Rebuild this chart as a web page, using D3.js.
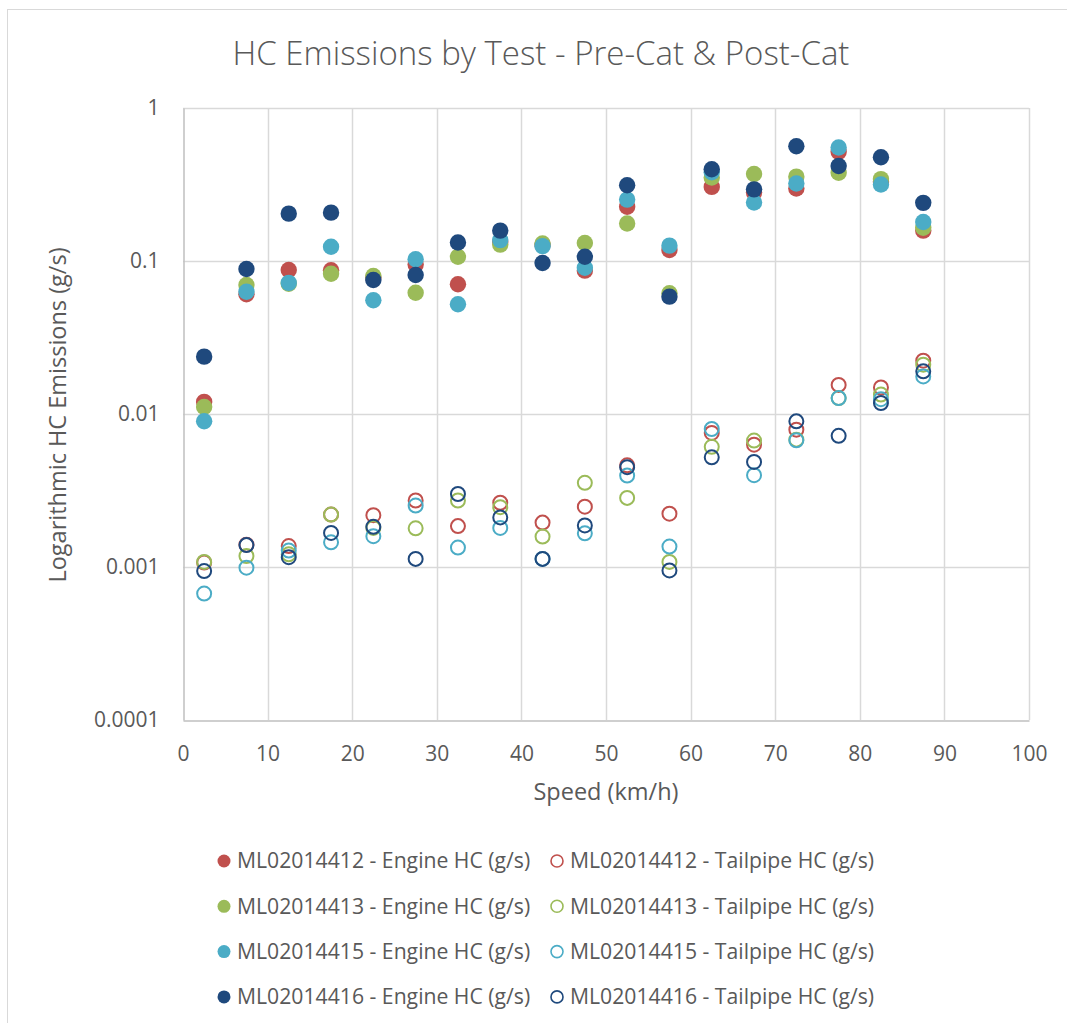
<!DOCTYPE html>
<html>
<head>
<meta charset="utf-8">
<script src="https://cdn.jsdelivr.net/npm/d3@7"></script>
<style>
    body { margin: 0; background: #fff; }
    svg { display: block; font-family: "Open Sans", sans-serif; }
</style>
</head>
<body>
<div id="chart"></div>
<script>
    var speeds = [2.5, 7.5, 12.5, 17.5, 22.5, 27.5, 32.5, 37.5, 42.5, 47.5, 52.5, 57.5, 62.5, 67.5, 72.5, 77.5, 82.5, 87.5];

    var engine12 = [0.0120, 0.0606, 0.0874, 0.0870, 0.0780, 0.0950, 0.0705, 0.133, 0.127, 0.0865, 0.226, 0.118, 0.305, 0.280, 0.298, 0.517, 0.330, 0.158];
    var tailpipe12 = [0.00107, 0.0014, 0.00137, 0.0022, 0.00218, 0.00272, 0.00185, 0.00263, 0.00195, 0.00248, 0.00462, 0.00223, 0.00752, 0.0063, 0.0079, 0.0155, 0.0149, 0.0223];
    var engine13 = [0.0111, 0.0697, 0.0710, 0.0826, 0.0798, 0.0620, 0.1067, 0.128, 0.130, 0.131, 0.176, 0.0615, 0.351, 0.370, 0.356, 0.377, 0.343, 0.165];
    var tailpipe13 = [0.00108, 0.00118, 0.00121, 0.0022, 0.0018, 0.00179, 0.00272, 0.00246, 0.00158, 0.00355, 0.00283, 0.00108, 0.0061, 0.0067, 0.0068, 0.0127, 0.0134, 0.021];
    var engine15 = [0.00896, 0.0630, 0.0719, 0.124, 0.0554, 0.1026, 0.0522, 0.137, 0.125, 0.0904, 0.252, 0.126, 0.380, 0.241, 0.321, 0.552, 0.316, 0.180];
    var tailpipe15 = [0.00067, 0.00099, 0.00128, 0.00145, 0.00159, 0.00252, 0.00134, 0.0018, 0.00113, 0.00166, 0.00396, 0.00136, 0.00798, 0.00398, 0.00673, 0.0127, 0.0125, 0.0176];
    var engine16 = [0.0237, 0.0887, 0.204, 0.207, 0.0752, 0.081, 0.132, 0.158, 0.097, 0.1067, 0.313, 0.0585, 0.398, 0.294, 0.562, 0.418, 0.477, 0.240];
    var tailpipe16 = [0.00094, 0.00139, 0.00116, 0.00167, 0.00183, 0.00113, 0.003, 0.00211, 0.00113, 0.00187, 0.00449, 0.00095, 0.00521, 0.00486, 0.00895, 0.0072, 0.0118, 0.019];

    var seriesNames = [
        "ML02014412 - Engine HC (g/s)", "ML02014412 - Tailpipe HC (g/s)",
        "ML02014413 - Engine HC (g/s)", "ML02014413 - Tailpipe HC (g/s)",
        "ML02014415 - Engine HC (g/s)", "ML02014415 - Tailpipe HC (g/s)",
        "ML02014416 - Engine HC (g/s)", "ML02014416 - Tailpipe HC (g/s)"
    ];
    var seriesValues = [engine12, tailpipe12, engine13, tailpipe13, engine15, tailpipe15, engine16, tailpipe16];
    var seriesColors = ["#C0504D", "#C0504D", "#9BBB59", "#9BBB59", "#4BACC6", "#4BACC6", "#1F497D", "#1F497D"];

    var xTicks = [0, 10, 20, 30, 40, 50, 60, 70, 80, 90, 100];
    var yTicks = [0.0001, 0.001, 0.01, 0.1, 1];

    var width = 1067, height = 1023;
    var plot = {left: 183, right: 1029, top: 108, bottom: 720};
    var textColor = "#595959";

    var svg = d3.select("#chart").append("svg")
        .attr("width", width)
        .attr("height", height);

    // chart border
    svg.append("rect")
        .attr("x", 7.5).attr("y", 9.5)
        .attr("width", 1070).attr("height", 1030)
        .attr("fill", "#fff")
        .attr("stroke", "#D9D9D9");

    var xScale = d3.scaleLinear()
        .domain([0, 100])
        .range([plot.left, plot.right]);

    var yScale = d3.scaleLog()
        .domain([0.0001, 1])
        .range([plot.bottom, plot.top]);

    // gridlines
    svg.append("g").selectAll("line")
        .data(xTicks.slice(1))
        .enter().append("line")
        .attr("x1", d => Math.round(xScale(d)) + 0.5)
        .attr("x2", d => Math.round(xScale(d)) + 0.5)
        .attr("y1", plot.top).attr("y2", plot.bottom)
        .attr("stroke", "#D9D9D9").attr("stroke-width", 1.5);

    svg.append("g").selectAll("line")
        .data(yTicks.slice(1))
        .enter().append("line")
        .attr("x1", plot.left).attr("x2", plot.right)
        .attr("y1", d => Math.round(yScale(d)) + 0.5)
        .attr("y2", d => Math.round(yScale(d)) + 0.5)
        .attr("stroke", "#D9D9D9").attr("stroke-width", 1.5);

    var xAxis = d3.axisBottom(xScale)
        .tickValues(xTicks)
        .tickSize(0)
        .tickPadding(26);

    var yAxis = d3.axisLeft(yScale)
        .tickValues(yTicks)
        .tickFormat(d => String(d))
        .tickSize(0)
        .tickPadding(24);

    var gx = svg.append("g")
        .attr("transform", "translate(0," + (plot.bottom + 0.5) + ")")
        .call(xAxis);

    var gy = svg.append("g")
        .attr("transform", "translate(" + (plot.left + 0.5) + ",0)")
        .call(yAxis);

    [gx, gy].forEach(function(g) {
        g.select(".domain").attr("stroke", "#BFBFBF").attr("stroke-width", 1.5);
        g.selectAll("text")
            .attr("fill", textColor)
            .style("font-size", "21px")
            .style("font-family", "'Open Sans', sans-serif");
    });

    // title and axis titles
    svg.append("text")
        .attr("x", 541)
        .attr("y", 65)
        .attr("text-anchor", "middle")
        .attr("fill", textColor)
        .style("font-size", "33px")
        .style("font-weight", 300)
        .text("HC Emissions by Test - Pre-Cat & Post-Cat");

    svg.append("text")
        .attr("x", 606)
        .attr("y", 800)
        .attr("text-anchor", "middle")
        .attr("fill", textColor)
        .style("font-size", "23.5px")
        .text("Speed (km/h)");

    svg.append("text")
        .attr("transform", "rotate(-90)")
        .attr("x", -415)
        .attr("y", 66)
        .attr("text-anchor", "middle")
        .attr("fill", textColor)
        .style("font-size", "23.5px")
        .text("Logarithmic HC Emissions (g/s)");

    // series, drawn in legend order so the later ones sit on top
    seriesValues.forEach(function(values, i) {
        var filled = i % 2 === 0;
        svg.append("g").selectAll("circle")
            .data(values)
            .enter().append("circle")
            .attr("cx", (d, j) => xScale(speeds[j]))
            .attr("cy", d => yScale(d))
            .attr("r", filled ? 8.2 : 7)
            .attr("fill", filled ? seriesColors[i] : "none")
            .attr("stroke", filled ? "none" : seriesColors[i])
            .attr("stroke-width", 2);
    });

    // legend
    var legend = svg.selectAll(".legend")
        .data(seriesNames)
        .enter().append("g")
        .attr("class", "legend")
        .attr("transform", (d, i) => "translate(" + (i % 2 === 0 ? 224 : 557) + "," + (861 + Math.floor(i / 2) * 45.3) + ")");

    legend.append("circle")
        .attr("r", (d, i) => i % 2 === 0 ? 6.5 : 6)
        .attr("fill", (d, i) => i % 2 === 0 ? seriesColors[i] : "none")
        .attr("stroke", (d, i) => i % 2 === 0 ? "none" : seriesColors[i])
        .attr("stroke-width", 1.6);

    legend.append("text")
        .attr("x", 13)
        .attr("dy", "0.35em")
        .attr("fill", textColor)
        .style("font-size", "21.2px")
        .text(d => d);
</script>
</body>
</html>
